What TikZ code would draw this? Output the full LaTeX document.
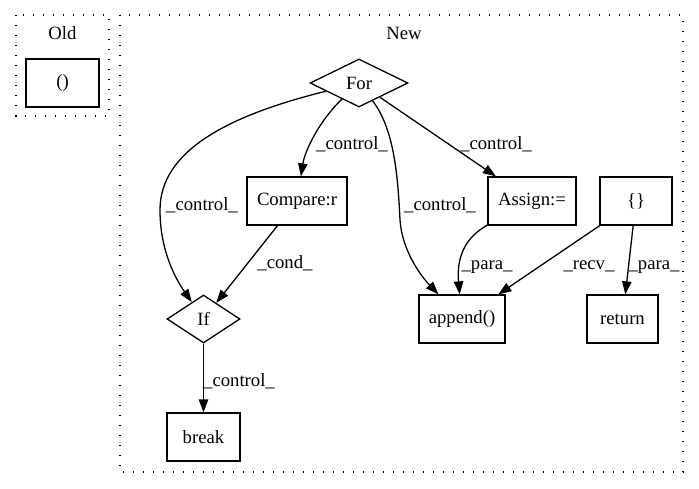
\documentclass[tikz,border=0pt]{standalone}
\usepackage{fontspec}
\setmainfont{Liberation Serif}
\usetikzlibrary{shapes.geometric,arrows.meta}

\tikzset{
  x=1pt, y=-1pt,
  every node/.style={font=\fontsize{18.7}{22}\selectfont},
  cluster/.style={draw, line width=1.3pt, dash pattern=on 1.4pt off 8.6pt},
  stmt/.style={draw, rectangle, line width=1.3pt, inner sep=0pt, minimum height=48pt},
  branch/.style={draw, diamond, line width=1.3pt, inner sep=0pt, minimum height=48pt},
  flow/.style={line width=1.3pt, -{Triangle[length=13pt,width=9.5pt]}},
  elabel/.style={anchor=base, inner sep=0pt},
}

\begin{document}
\begin{tikzpicture}
\useasboundingbox (0,0) rectangle (699,488);

% clusters
\draw[cluster] (16,15) rectangle (109,116);
\node[elabel] (oldlbl) at (62.5,39) {Old};
\draw[cluster] (120,15) rectangle (683,472);
\node[elabel] (newlbl) at (404,39) {New};

% Old graph
\node[stmt, minimum width=73pt] (tuple) at (62.5,83) {()};

% New graph
\node[branch, minimum width=98pt] (For) at (359,83) {For};
\node[stmt, minimum width=100pt] (Compare) at (297,201) {Compare:r};
\node[stmt, minimum width=88pt] (Assign) at (532,201) {Assign:=};
\node[stmt, minimum width=72pt] (brace) at (636,201) {\{\}};
\node[branch, minimum width=73pt] (If) at (203.5,319) {If};
\node[stmt, minimum width=86pt] (append) at (462,319) {append()};
\node[stmt, minimum width=71pt] (ret) at (622.5,319) {return};
\node[stmt, minimum width=73pt] (brk) at (203.5,437) {break};

% edges
\draw[flow] (For) .. controls (230,115) and (160,150) .. (160,210)
               .. controls (160,250) and (175,278) .. (If);
\node[elabel] (l1) at (202,210) {\_control\_};

\draw[flow] (For) .. controls (320,120) and (305,150) .. (Compare);
\node[elabel] (l2) at (352,149) {\_control\_};

\draw[flow] (For) .. controls (395,130) and (398,180) .. (400,220)
               .. controls (402,250) and (420,275) .. (append);
\node[elabel] (l3) at (440,210) {\_control\_};

\draw[flow] (For) -- (Assign);
\node[elabel] (l4) at (496,149) {\_control\_};

\draw[flow] (Compare) -- (If);
\node[elabel] (l5) at (285,268) {\_cond\_};

\draw[flow] (If) -- (brk);
\node[elabel] (l6) at (239,386) {\_control\_};

\draw[flow] (Assign) .. controls (460,240) and (457,265) .. (append);
\node[elabel] (l7) at (487,269) {\_para\_};

\draw[flow] (brace) -- (append);
\node[elabel] (l8) at (589,269) {\_recv\_};

\draw[flow] (brace) -- (ret);
\node[elabel] (l9) at (654,269) {\_para\_};
\end{tikzpicture}
\end{document}
